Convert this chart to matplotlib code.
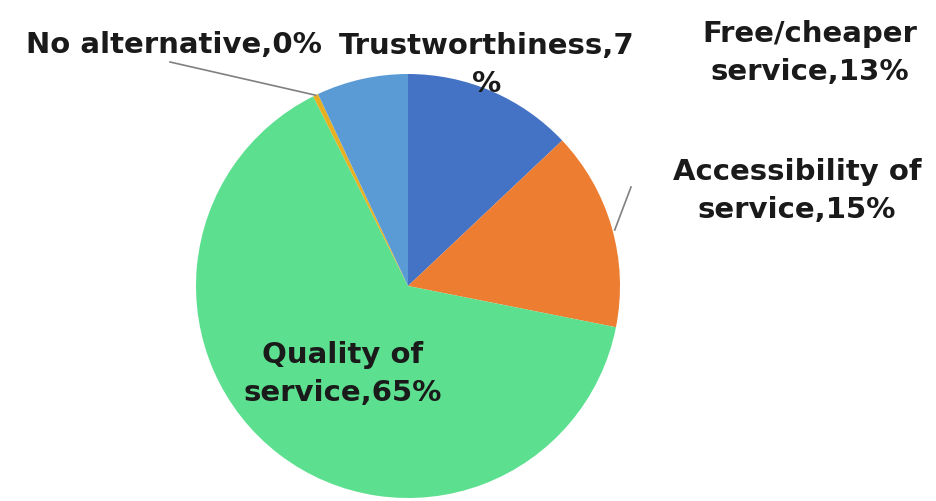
import numpy as np
import matplotlib
matplotlib.use("Agg")
import matplotlib.pyplot as plt

categories = ["Free/cheaper\nservice", "Accessibility of\nservice", "Quality of\nservice",
              "No alternative", "Trustworthiness"]
values = [13.0, 15.2, 64.7, 0.4, 7.0]
colors = ["#4472C4", "#ED7D31", "#5CE08F", "#E8B020", "#5B9BD5"]

W, H = 937, 501
fig = plt.figure(figsize=(W / 100, H / 100), dpi=100)
cx, cy, r = 408, 286, 212
ax = fig.add_axes([(cx - r) / W, (H - cy - r) / H, 2 * r / W, 2 * r / H])
wedges, _ = ax.pie(values, colors=colors, startangle=90, counterclock=False,
                   wedgeprops=dict(linewidth=0))
ax.set_xlim(-1, 1)
ax.set_ylim(-1, 1)
ax.set_aspect("equal")

def lab(i):
    return f"{categories[i]},{round(values[i])}%"

fs = 21
tkw = dict(fontsize=fs, fontweight="bold", color="#1a1a1a", family="DejaVu Sans",
           ha="center", va="center", linespacing=1.45)

def fx(x):
    return x / W

def fy(y):
    return 1 - y / H

# Free/cheaper
fig.text(fx(810), fy(53), lab(0), **tkw)
# Accessibility
fig.text(fx(797), fy(191), lab(1), **tkw)
# Quality
fig.text(fx(343), fy(374), lab(2), **tkw)
# No alternative
fig.text(fx(174), fy(45), lab(3), **tkw)
# Trustworthiness (wrapped like the original)
t = lab(4)
fig.text(fx(487), fy(65), t[:-1] + "\n" + t[-1], **tkw)

# leader lines
def wedge_point(w):
    th = np.deg2rad((w.theta1 + w.theta2) / 2)
    return np.cos(th), np.sin(th)

def to_fig(px, py):
    return fig.transFigure.inverted().transform(ax.transData.transform((px, py)))

p = to_fig(*wedge_point(wedges[3]))
fig.add_artist(plt.Line2D([fx(170), p[0]], [fy(62), p[1]], color="#808080", lw=1.2,
                          transform=fig.transFigure))
p = to_fig(*wedge_point(wedges[1]))
fig.add_artist(plt.Line2D([fx(631), p[0] + 3 / W], [fy(187), fy(230)], color="#808080", lw=1.2,
                          transform=fig.transFigure))

fig.savefig("out.png", dpi=100)
